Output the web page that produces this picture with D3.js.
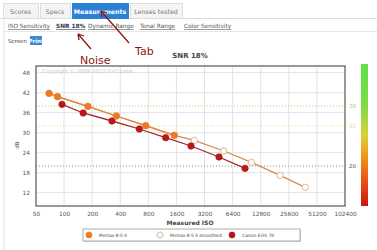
<!DOCTYPE html>
<html>
<head>
<meta charset="utf-8">
<script src="https://cdn.jsdelivr.net/npm/d3@7"></script>
<style>
  body { margin: 0; background: #fff; }
  svg text { font-family: "DejaVu Sans", Verdana, sans-serif; }
</style>
</head>
<body>
<div id="chart"></div>
<script>
// tick values
const isoTicks = [50, 100, 200, 400, 800, 1600, 3200, 6400, 12800, 25600, 51200, 102400];
const dbTicks = [12, 18, 24, 30, 36, 42, 48];

// Pentax K-5 II measured
const pentaxIso = [69, 85, 180, 363, 749, 1517];
const pentaxSnr = [41.8, 40.8, 37.9, 35.0, 32.1, 29.2];

// Pentax K-5 II smoothed
const smoothIso = [69, 85, 180, 363, 749, 1517, 2485, 5136, 10198, 20602, 38460];
const smoothSnr = [41.8, 40.8, 37.9, 35.0, 32.1, 29.2, 27.7, 24.5, 21.1, 17.2, 13.6];

// Canon EOS 70
const canonIso = [95, 160, 326, 640, 1227, 2291, 4572, 8690];
const canonSnr = [38.5, 35.9, 33.5, 31.1, 28.5, 26.0, 22.7, 19.3];

// reference levels on the right
const refLevels = [38, 32, 20];
const refLabels = ["38", "32", "20"];

const tabs = ["Scores", "Specs", "Measurements", "Lenses tested"];
const subTabs = ["ISO Sensitivity", "SNR 18%", "Dynamic Range", "Tonal Range", "Color Sensitivity"];
const legendNames = ["Pentax K-5 II", "Pentax K-5 II smoothed", "Canon EOS 70"];

const width = 377, height = 250;

const svg = d3.select('#chart').append('svg')
    .attr('width', width)
    .attr('height', height);

// page frame line on the left
svg.append('line').attr('x1', 4).attr('x2', 4).attr('y1', 18).attr('y2', 250)
    .attr('stroke', '#e4e4e4');

// ---- tabs ----
const tabX = [3, 40, 72, 130], tabW = [35, 30, 56, 52];
svg.append('line').attr('x1', 0).attr('x2', width).attr('y1', 18.5).attr('y2', 18.5)
    .attr('stroke', '#ddd');
tabs.forEach((t, i) => {
    const active = i === 2;
    svg.append('rect')
        .attr('x', tabX[i] + 0.5).attr('y', 3.5)
        .attr('width', tabW[i]).attr('height', 15)
        .attr('fill', active ? '#2b82d4' : '#f4f4f4')
        .attr('stroke', active ? '#2b82d4' : '#ddd');
    svg.append('text')
        .attr('x', tabX[i] + tabW[i] / 2).attr('y', 13.5)
        .attr('text-anchor', 'middle')
        .attr('font-size', 6.3)
        .attr('font-weight', active ? 'bold' : 'normal')
        .attr('fill', active ? '#fff' : '#777')
        .text(t);
});

// ---- sub tabs ----
const subX = [8, 56, 88, 140, 184];
subTabs.forEach((t, i) => {
    svg.append('text')
        .attr('x', subX[i]).attr('y', 28)
        .attr('font-size', 5.8)
        .attr('font-weight', i === 1 ? 'bold' : 'normal')
        .attr('fill', i === 1 ? '#335' : '#555')
        .attr('text-decoration', 'underline')
        .text(t);
});
svg.append('line').attr('x1', 4).attr('x2', width).attr('y1', 31.5).attr('y2', 31.5)
    .attr('stroke', '#e6e6e6');

svg.append('text').attr('x', 8).attr('y', 43).attr('font-size', 5.5).attr('fill', '#444').text('Screen');
svg.append('rect').attr('x', 30).attr('y', 36).attr('width', 12).attr('height', 9).attr('fill', '#3b8ad6');
svg.append('text').attr('x', 36).attr('y', 43).attr('text-anchor', 'middle')
    .attr('font-size', 5.5).attr('font-weight', 'bold').attr('fill', '#fff').text('Print');

// ---- chart ----
const x = d3.scaleLog().base(2).domain([50, 102400]).range([36, 345]);
const y = d3.scaleLinear().domain([8, 50]).range([206, 66]);

svg.append('text').attr('x', 190).attr('y', 58).attr('text-anchor', 'middle')
    .attr('font-size', 7).attr('font-weight', 'bold').attr('fill', '#444').text('SNR 18%');

// grid
svg.append('g').selectAll('line').data(isoTicks.slice(1, -1)).join('line')
    .attr('x1', d => x(d)).attr('x2', d => x(d))
    .attr('y1', 66).attr('y2', 206)
    .attr('stroke', '#e2e2e2');
svg.append('g').selectAll('line').data(dbTicks).join('line')
    .attr('x1', 36).attr('x2', 345)
    .attr('y1', d => y(d)).attr('y2', d => y(d))
    .attr('stroke', '#e2e2e2');

// reference dotted lines
const refColors = ['#9bd96a', '#e6e08a', '#888'];
refLevels.forEach((v, i) => {
    svg.append('line')
        .attr('x1', 36).attr('x2', 345)
        .attr('y1', y(v)).attr('y2', y(v))
        .attr('stroke', refColors[i])
        .attr('stroke-dasharray', '1,2');
    svg.append('text')
        .attr('x', 349).attr('y', y(v) + 2)
        .attr('font-size', 5.5)
        .attr('fill', i === 2 ? '#8a3b3b' : refColors[i])
        .text(refLabels[i]);
});

svg.append('text').attr('x', 42).attr('y', 73).attr('font-size', 5.3).attr('fill', '#ccc')
    .text('Copyright © 2008-2013 DxO Labs');

// axes labels
const xAxis = d3.axisBottom(x).tickValues(isoTicks).tickFormat(d3.format('d')).tickSize(0).tickPadding(6);
const yAxis = d3.axisLeft(y).tickValues(dbTicks).tickSize(0).tickPadding(6);
const gx = svg.append('g').attr('transform', 'translate(0,206)').call(xAxis);
const gy = svg.append('g').attr('transform', 'translate(36,0)').call(yAxis);
[gx, gy].forEach(g => {
    g.select('.domain').remove();
    g.selectAll('text').attr('font-size', 5.8).attr('fill', '#555')
        .style('font-family', '"DejaVu Sans", Verdana, sans-serif');
});

// frame
svg.append('rect').attr('x', 36).attr('y', 66).attr('width', 309).attr('height', 140)
    .attr('fill', 'none').attr('stroke', '#555').attr('stroke-width', 1.2);

svg.append('text').attr('transform', 'translate(19,145) rotate(-90)').attr('text-anchor', 'middle')
    .attr('font-size', 5.5).attr('fill', '#444').text('dB');
svg.append('text').attr('x', 190).attr('y', 225).attr('text-anchor', 'middle')
    .attr('font-size', 6).attr('font-weight', 'bold').attr('fill', '#444').text('Measured ISO');

// series
const line = d3.line().x(d => x(d[0])).y(d => y(d[1]));
const series = [
    { iso: smoothIso, snr: smoothSnr, stroke: '#d28c52', fill: '#fff', mark: '#d9a57a' },
    { iso: canonIso, snr: canonSnr, stroke: '#a4262a', fill: '#b5191b', mark: '#b5191b' },
    { iso: pentaxIso, snr: pentaxSnr, stroke: '#e9893c', fill: '#ec7b27', mark: '#ec7b27' }
];
series.forEach(s => {
    const pts = s.iso.map((v, i) => [v, s.snr[i]]);
    svg.append('path').datum(pts).attr('d', line)
        .attr('fill', 'none').attr('stroke', s.stroke).attr('stroke-width', 1.3);
    svg.append('g').selectAll('circle').data(pts).join('circle')
        .attr('cx', d => x(d[0])).attr('cy', d => y(d[1])).attr('r', 3.2)
        .attr('fill', s.fill).attr('stroke', s.mark).attr('stroke-width', 0.8);
});

// color bar
const grad = svg.append('defs').append('linearGradient').attr('id', 'bar')
    .attr('x1', 0).attr('x2', 0).attr('y1', 0).attr('y2', 1);
[[0, '#5ee04a'], [0.3, '#7fdc45'], [0.5, '#d8d33a'], [0.62, '#f0a020'], [0.8, '#ea5a14'], [1, '#d0120c']]
    .forEach(s => grad.append('stop').attr('offset', s[0]).attr('stop-color', s[1]));
svg.append('rect').attr('x', 361).attr('y', 64).attr('width', 7).attr('height', 142)
    .attr('fill', 'url(#bar)');

// legend
svg.append('rect').attr('x', 84).attr('y', 230).attr('width', 217).attr('height', 12)
    .attr('fill', '#999').attr('opacity', 0.4);
svg.append('rect').attr('x', 83).attr('y', 229).attr('width', 217).attr('height', 12)
    .attr('fill', '#fff').attr('stroke', '#999').attr('stroke-width', 0.8);
const legX = [89, 160, 232];
legendNames.forEach((n, i) => {
    const s = series[[2, 0, 1][i]];
    svg.append('circle').attr('cx', legX[i]).attr('cy', 235).attr('r', 3)
        .attr('fill', s.fill).attr('stroke', s.mark).attr('stroke-width', 0.8);
    svg.append('text').attr('x', legX[i] + 10).attr('y', 236.8)
        .attr('font-size', 4.5).attr('fill', '#444').text(n);
});

// hand-drawn annotations
const ink = '#8b1515';
svg.append('path').attr('d', 'M91,49 L78,34 M78,34 L79,40 M78,34 L84,36')
    .attr('stroke', ink).attr('stroke-width', 1.3).attr('fill', 'none');
svg.append('path').attr('d', 'M129,43 L101,11 M101,11 L102,17 M101,11 L107,13')
    .attr('stroke', ink).attr('stroke-width', 1.3).attr('fill', 'none');
svg.append('text').attr('x', 80).attr('y', 64).attr('font-size', 11).attr('fill', ink)
    .style('font-family', '"Comic Sans MS", "DejaVu Sans", sans-serif').text('Noise');
svg.append('text').attr('x', 135).attr('y', 55).attr('font-size', 11).attr('fill', ink)
    .style('font-family', '"Comic Sans MS", "DejaVu Sans", sans-serif').text('Tab');
</script>
</body>
</html>
